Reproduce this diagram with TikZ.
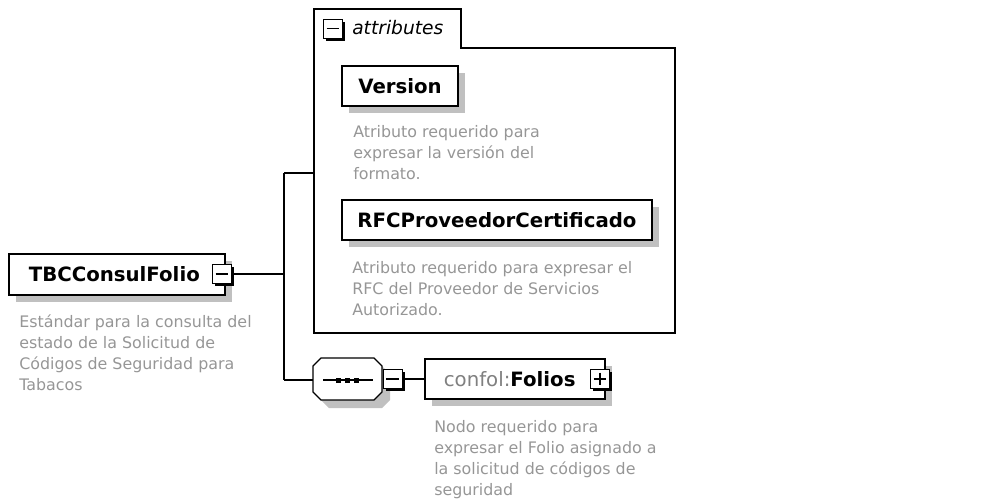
\documentclass[tikz,border=0pt]{standalone}
\usepackage{fontspec}
\newfontfamily\dv{DejaVu Sans}
\usetikzlibrary{shadows,calc}
\definecolor{desccol}{RGB}{150,150,150}
\definecolor{shadowc}{RGB}{192,192,192}
\definecolor{nscol}{RGB}{128,128,128}
\tikzset{
  elbox/.style={draw, fill=white, line width=0.9pt, inner sep=0pt,
    font=\dv\fontsize{14.8}{18}\selectfont\bfseries,
    drop shadow={shadow xshift=5.5pt, shadow yshift=-5.5pt, fill=shadowc, opacity=1}},
  tog/.style={draw, fill=white, line width=0.75pt, minimum size=14.25pt, inner sep=0pt,
    drop shadow={shadow xshift=2pt, shadow yshift=-2pt, fill=black, opacity=1}},
  minusbox/.style={tog, path picture={\draw[line width=0.9pt]
      ([xshift=2.4pt]path picture bounding box.west) -- ([xshift=-2.4pt]path picture bounding box.east);}},
  plusbox/.style={tog, path picture={\draw[line width=0.9pt]
      ([xshift=2.4pt]path picture bounding box.west) -- ([xshift=-2.4pt]path picture bounding box.east)
      ([yshift=-2.4pt]path picture bounding box.north) -- ([yshift=2.4pt]path picture bounding box.south);}},
  desc/.style={anchor=base west, inner sep=0pt, text=desccol,
    font=\dv\fontsize{11.9}{15.9}\selectfont},
  conn/.style={line width=0.9pt}
}
\begin{document}
\begin{tikzpicture}[x=0.75pt,y=-0.75pt]
\useasboundingbox (0,0) rectangle (1006,500);
% attributes container
\draw[line width=0.8pt] (314,9) -- (461,9) -- (461,48) -- (675,48) -- (675,333) -- (314,333) -- cycle;
\node[minusbox] (attT) at (333,28.5) {};
\node[anchor=west, inner sep=0pt, font=\dv\fontsize{14}{16}\selectfont\itshape] (attL) at (352,28) {attributes};
\coordinate (attIn) at (314,173);

% Version
\node[elbox, minimum width=87pt, minimum height=30pt] (ver) at (400,86) {Version};
\node[desc] (verD) at (353,137) {\parbox[t]{7cm}{\fontsize{11.9}{15.9}\selectfont Atributo requerido para\\expresar la versión del\\formato.}};

% RFC
\node[elbox, minimum width=232.5pt, minimum height=30pt] (rfc) at (497,220) {RFCProveedorCertificado};
\node[desc] (rfcD) at (352,273) {\parbox[t]{9cm}{\fontsize{11.9}{15.9}\selectfont Atributo requerido para expresar el\\RFC del Proveedor de Servicios\\Autorizado.}};

% root
\node[elbox, minimum width=162pt, minimum height=30.75pt] (tbc) at (117,274.5) {\hspace*{-4pt}TBCConsulFolio};
\node[minusbox] (tbcT) at (222,274) {};
\node[desc] (tbcD) at (19,327) {\parbox[t]{7cm}{\fontsize{11.9}{15.9}\selectfont Estándar para la consulta del\\estado de la Solicitud de\\Códigos de Seguridad para\\Tabacos}};

% sequence
\fill[shadowc] (329,366) -- (382,366) -- (390,374) -- (390,400) -- (382,408) -- (329,408) -- (321,400) -- (321,374) -- cycle;
\draw[fill=white, line width=0.9pt] (321,358) -- (374,358) -- (382,366) -- (382,392) -- (374,400) -- (321,400) -- (313,392) -- (313,366) -- cycle;
\node[minimum width=51.75pt, minimum height=31.5pt, inner sep=0pt] (seq) at (347.5,379) {};
\draw[line width=0.9pt] (323,380) -- (373,380);
\foreach \q in {338,347,356} \fill (\q-2.5,377.5) rectangle (\q+2.5,382.5);
\node[minusbox] (seqT) at (392.5,379) {};

% Folios
\node[elbox, minimum width=135pt, minimum height=30pt] (fol) at (515,379) {\hspace*{-8pt}{\mdseries\color{nscol}confol:}Folios};
\node[plusbox] (folT) at (600,379) {};
\node[desc] (folD) at (434,432) {\parbox[t]{7cm}{\fontsize{11.9}{15.9}\selectfont Nodo requerido para\\expresar el Folio asignado a\\la solicitud de códigos de\\seguridad}};

% connectors
\coordinate (ja) at (284,173);
\coordinate (js) at (284,380);
\draw[conn] (ja) -- (js);
\draw[conn] (tbcT.east) -- (tbcT.east -| ja);
\draw[conn] (ja) -- (attIn);
\draw[conn] (js) -- (js -| seq.west);
\draw[conn] (seqT.east) -- (seqT.east -| fol.west);
\end{tikzpicture}
\end{document}
